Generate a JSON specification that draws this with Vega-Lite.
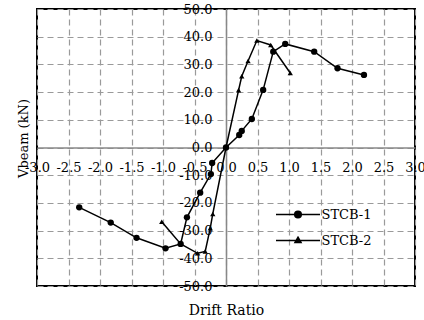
{
  "$schema": "https://vega.github.io/schema/vega-lite/v6.json",
  "width": 378,
  "height": 277,
  "autosize": {"type": "none"},
  "padding": {"left": 37, "top": 9, "right": 9, "bottom": 34},
  "config": {
    "view": {"stroke": "black", "strokeWidth": 2},
    "font": "DejaVu Serif",
    "axis": {
      "domainColor": "#888888",
      "domainWidth": 1.5,
      "grid": true,
      "gridColor": "#9a9a9a",
      "gridDash": [6, 4],
      "gridWidth": 1.2,
      "labelFont": "DejaVu Serif",
      "labelFontSize": 13,
      "labelColor": "black",
      "titleFont": "DejaVu Serif",
      "titleFontWeight": "normal",
      "titleColor": "black"
    },
    "legend": {"labelFont": "DejaVu Serif"}
  },
  "data": {
    "values": [
      {"series": "STCB-1", "i": 1, "x": -2.33, "y": -21.6},
      {"series": "STCB-1", "i": 2, "x": -1.83, "y": -27.1},
      {"series": "STCB-1", "i": 3, "x": -1.42, "y": -32.6},
      {"series": "STCB-1", "i": 4, "x": -0.96, "y": -36.4},
      {"series": "STCB-1", "i": 5, "x": -0.72, "y": -34.8},
      {"series": "STCB-1", "i": 6, "x": -0.62, "y": -25.2},
      {"series": "STCB-1", "i": 7, "x": -0.41, "y": -16.3},
      {"series": "STCB-1", "i": 8, "x": -0.24, "y": -9.6},
      {"series": "STCB-1", "i": 9, "x": -0.22, "y": -5.6},
      {"series": "STCB-1", "i": 10, "x": 0, "y": 0},
      {"series": "STCB-1", "i": 11, "x": 0.21, "y": 4.5},
      {"series": "STCB-1", "i": 12, "x": 0.25, "y": 6.0},
      {"series": "STCB-1", "i": 13, "x": 0.41, "y": 10.3},
      {"series": "STCB-1", "i": 14, "x": 0.59, "y": 20.8},
      {"series": "STCB-1", "i": 15, "x": 0.75, "y": 34.6},
      {"series": "STCB-1", "i": 16, "x": 0.94, "y": 37.4},
      {"series": "STCB-1", "i": 17, "x": 1.40, "y": 34.6},
      {"series": "STCB-1", "i": 18, "x": 1.77, "y": 28.6},
      {"series": "STCB-1", "i": 19, "x": 2.19, "y": 26.2},
      {"series": "STCB-2", "i": 1, "x": -1.02, "y": -26.8},
      {"series": "STCB-2", "i": 2, "x": -0.72, "y": -34.8},
      {"series": "STCB-2", "i": 3, "x": -0.45, "y": -38.2},
      {"series": "STCB-2", "i": 4, "x": -0.33, "y": -37.5},
      {"series": "STCB-2", "i": 5, "x": -0.25, "y": -29.1},
      {"series": "STCB-2", "i": 6, "x": -0.21, "y": -24.0},
      {"series": "STCB-2", "i": 7, "x": 0, "y": 0},
      {"series": "STCB-2", "i": 8, "x": 0.20, "y": 20.7},
      {"series": "STCB-2", "i": 9, "x": 0.25, "y": 25.7},
      {"series": "STCB-2", "i": 10, "x": 0.35, "y": 31.2},
      {"series": "STCB-2", "i": 11, "x": 0.49, "y": 38.6},
      {"series": "STCB-2", "i": 12, "x": 0.71, "y": 37.0},
      {"series": "STCB-2", "i": 13, "x": 1.02, "y": 26.9}
    ]
  },
  "encoding": {
    "x": {
      "field": "x",
      "type": "quantitative",
      "scale": {"domain": [-3, 3], "nice": false, "zero": false},
      "axis": {
        "title": "Drift Ratio",
        "titleFontSize": 14,
        "values": [-3, -2.5, -2, -1.5, -1, -0.5, 0, 0.5, 1, 1.5, 2, 2.5, 3],
        "labelExpr": "(datum.value < 0 ? '-' : '') + format(abs(datum.value), '.1f')",
        "offset": -138.5,
        "ticks": false,
        "tickSize": 0,
        "labelPadding": 24,
        "labelBaseline": "alphabetic",
        "labelAngle": 0,
        "labelOverlap": false,
        "labelBound": false,
        "labelFlush": false,
        "titleY": 166.5,
        "titleBaseline": "alphabetic"
      }
    },
    "y": {
      "field": "y",
      "type": "quantitative",
      "scale": {"domain": [-50, 50], "nice": false},
      "axis": {
        "title": "Vbeam (kN)",
        "titleFontSize": 13,
        "values": [-50, -40, -30, -20, -10, 0, 10, 20, 30, 40, 50],
        "labelExpr": "(datum.value < 0 ? '-' : '') + format(abs(datum.value), '.1f')",
        "offset": -189,
        "ticks": false,
        "tickSize": 0,
        "labelPadding": 14,
        "labelOverlap": false,
        "labelBound": false,
        "labelFlush": false,
        "titleX": -199,
        "titleY": 129,
        "titleAngle": 270,
        "titleBaseline": "alphabetic"
      }
    }
  },
  "layer": [
    {
      "mark": {"type": "line", "strokeWidth": 1.5},
      "encoding": {
        "order": {"field": "i", "type": "quantitative"},
        "color": {
          "field": "series",
          "type": "nominal",
          "scale": {"range": ["black", "black"]},
          "legend": {
            "title": null,
            "orient": "none",
            "legendX": 254.5,
            "legendY": 199,
            "padding": 0,
            "symbolSize": 121,
            "labelOffset": 17,
            "labelFont": "DejaVu Serif",
            "labelFontSize": 13,
            "labelColor": "black",
            "rowPadding": 12,
            "encode": {
              "symbols": {
                "update": {
                  "shape": {"signal": "datum.value == 'STCB-1' ? 'M-4,0H4M0.6,0A0.6,0.6,0,1,1,-0.6,0A0.6,0.6,0,1,1,0.6,0Z' : 'M-4,0H4M0,-0.6L0.55,0.35L-0.55,0.35Z'"},
                  "fill": {"value": "black"},
                  "stroke": {"value": "black"},
                  "strokeWidth": {"value": 1.5},
                  "opacity": {"value": 1}
                }
              }
            }
          }
        }
      }
    },
    {
      "transform": [{"filter": "datum.series == 'STCB-1'"}],
      "mark": {"type": "point", "shape": "circle", "filled": true, "size": 40, "color": "black", "opacity": 1}
    },
    {
      "transform": [{"filter": "datum.series == 'STCB-2'"}],
      "mark": {"type": "point", "shape": "triangle-up", "filled": true, "size": 28, "color": "black", "opacity": 1}
    }
  ]
}
